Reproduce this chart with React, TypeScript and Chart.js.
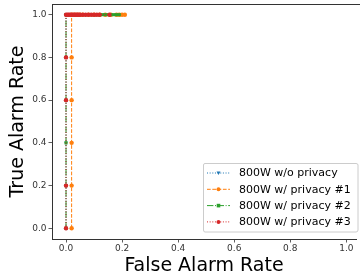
import React, { useEffect, useRef } from 'react';
import Chart from 'chart.js/auto';

const X_TICKS = [0, 0.2, 0.4, 0.6, 0.8, 1.0];
const Y_TICKS = [0, 0.2, 0.4, 0.6, 0.8, 1.0];
const SERIES_LABELS = ['800W w/o privacy', '800W w/ privacy #1', '800W w/ privacy #2', '800W w/ privacy #3'];

const FPR_NOPRIV = [0, 0, 0, 0, 0, 0, 0.01, 0.02, 0.03, 0.04, 0.05, 0.06, 0.07, 0.08];
const TPR_NOPRIV = [0, 0.2, 0.4, 0.6, 0.8, 1, 1, 1, 1, 1, 1, 1, 1, 1];

const FPR_PRIV1 = [0.02, 0.02, 0.02, 0.02, 0.02, 0.02, 0.03, 0.04, 0.05, 0.06, 0.08, 0.1, 0.12, 0.14, 0.16, 0.18, 0.19, 0.2, 0.21];
const TPR_PRIV1 = [0, 0.2, 0.4, 0.6, 0.8, 1, 1, 1, 1, 1, 1, 1, 1, 1, 1, 1, 1, 1, 1];

const FPR_PRIV2 = [0, 0, 0, 0, 0, 0, 0.01, 0.02, 0.03, 0.05, 0.07, 0.09, 0.1, 0.11, 0.12, 0.13, 0.14, 0.15, 0.16, 0.17, 0.18, 0.19];
const TPR_PRIV2 = [0, 0.2, 0.4, 0.6, 0.8, 1, 1, 1, 1, 1, 1, 1, 1, 1, 1, 1, 1, 1, 1, 1, 1, 1];

const FPR_PRIV3 = [0, 0, 0, 0, 0, 0.005, 0.01, 0.015, 0.02, 0.025, 0.03, 0.035, 0.04, 0.045, 0.05, 0.06, 0.07, 0.08, 0.09, 0.1, 0.11, 0.12, 0.155];
const TPR_PRIV3 = [0, 0.2, 0.6, 0.8, 1, 1, 1, 1, 1, 1, 1, 1, 1, 1, 1, 1, 1, 1, 1, 1, 1, 1, 1];

const COLORS = ['#1f77b4', '#ff7f0e', '#2ca02c', '#d62728'];
const DASHES = [[1, 1.65], [3.7, 1.6], [6.4, 1.6, 1, 1.6], [1, 1.65]];
const MARKERS = ['triangle', 'circle', 'rect', 'circle'];

const FONT = 'DejaVu Sans';

function pts(xs: number[], ys: number[]) {
  return xs.map((x, i) => ({ x, y: ys[i] }));
}

function drawMarker(ctx: CanvasRenderingContext2D, style: string, x: number, y: number, r: number, color: string) {
  ctx.save();
  ctx.fillStyle = color;
  ctx.beginPath();
  if (style === 'circle') {
    ctx.arc(x, y, r, 0, Math.PI * 2);
  } else if (style === 'triangle') {
    ctx.moveTo(x - r, y - r * 0.8);
    ctx.lineTo(x + r, y - r * 0.8);
    ctx.lineTo(x, y + r);
    ctx.closePath();
  } else {
    ctx.rect(x - r * 0.9, y - r * 0.9, r * 1.8, r * 1.8);
  }
  ctx.fill();
  ctx.restore();
}

const framePlugin = {
  id: 'frameAndLegend',
  afterDraw(chart: any) {
    const ctx: CanvasRenderingContext2D = chart.ctx;
    const a = chart.chartArea;
    ctx.save();
    ctx.strokeStyle = '#333';
    ctx.lineWidth = 1;
    ctx.beginPath();
    ctx.moveTo(a.left, a.top + 0.5);
    ctx.lineTo(chart.width, a.top + 0.5);
    ctx.stroke();

    // legend
    const bx = 203, by = 163, bw = 155, bh = 69;
    ctx.fillStyle = 'rgba(255,255,255,0.85)';
    ctx.strokeStyle = '#cccccc';
    ctx.beginPath();
    const rr = 2;
    ctx.moveTo(bx + rr, by + 0.5);
    ctx.lineTo(bx + bw - rr, by + 0.5);
    ctx.quadraticCurveTo(bx + bw, by + 0.5, bx + bw, by + rr);
    ctx.lineTo(bx + bw, by + bh - rr);
    ctx.quadraticCurveTo(bx + bw, by + bh, bx + bw - rr, by + bh);
    ctx.lineTo(bx + rr, by + bh);
    ctx.quadraticCurveTo(bx + 0.5, by + bh, bx + 0.5, by + bh - rr);
    ctx.lineTo(bx + 0.5, by + rr);
    ctx.quadraticCurveTo(bx + 0.5, by + 0.5, bx + rr, by + 0.5);
    ctx.closePath();
    ctx.fill();
    ctx.stroke();

    ctx.font = `11px "${FONT}"`;
    ctx.textBaseline = 'middle';
    ctx.textAlign = 'left';
    chart.data.datasets.forEach((ds: any, i: number) => {
      const y = by + 10 + i * 16.3;
      ctx.strokeStyle = COLORS[i];
      ctx.lineWidth = 1;
      ctx.setLineDash(DASHES[i]);
      ctx.beginPath();
      ctx.moveTo(207, y);
      ctx.lineTo(230, y);
      ctx.stroke();
      ctx.setLineDash([]);
      drawMarker(ctx, MARKERS[i], 218.5, y, 2, COLORS[i]);
      ctx.fillStyle = '#000';
      ctx.fillText(ds.label, 239, y + 0.5);
    });
    ctx.restore();
  },
};

export default function App() {
  const ref = useRef<HTMLCanvasElement>(null);
  useEffect(() => {
    document.body.style.margin = '0';
    const datasets = [
      pts(FPR_NOPRIV, TPR_NOPRIV),
      pts(FPR_PRIV1, TPR_PRIV1),
      pts(FPR_PRIV2, TPR_PRIV2),
      pts(FPR_PRIV3, TPR_PRIV3),
    ].map((data, i) => ({
      label: SERIES_LABELS[i],
      data,
      order: 3 - i,
      showLine: true,
      borderColor: COLORS[i],
      backgroundColor: COLORS[i],
      borderWidth: 1,
      borderDash: DASHES[i],
      pointStyle: MARKERS[i],
      pointRotation: i === 0 ? 180 : 0,
      pointRadius: 2.2,
      pointBorderWidth: 0,
      pointBackgroundColor: COLORS[i],
      fill: false,
      tension: 0,
    }));
    const chart = new Chart(ref.current!, {
      type: 'scatter',
      data: { datasets },
      options: {
        responsive: false,
        animation: false,
        layout: { padding: { top: 4, left: 0, right: 0, bottom: 0 } },
        plugins: { legend: { display: false }, tooltip: { enabled: false } },
        scales: {
          x: {
            type: 'linear',
            min: -0.05,
            max: 1.0345,
            afterBuildTicks: (s: any) => { s.ticks = X_TICKS.map((v) => ({ value: v })); },
            afterFit: (s: any) => { s.height = 40; s.paddingLeft = 0; s.paddingRight = 0; },
            grid: { display: true, drawOnChartArea: false, tickLength: 3.5, color: '#333', tickWidth: 0.8 },
            border: { display: true, color: '#333', width: 1 },
            ticks: { font: { family: FONT, size: 9 }, color: '#333', padding: 1, maxRotation: 0, autoSkip: false, callback: (v: any) => Number(v).toFixed(1) },
            title: { display: true, text: 'False Alarm Rate', font: { family: FONT, size: 19 }, color: '#000', padding: { top: 0, bottom: 2 } },
          },
          y: {
            type: 'linear',
            min: -0.05,
            max: 1.05,
            afterBuildTicks: (s: any) => { s.ticks = Y_TICKS.map((v) => ({ value: v })); },
            afterFit: (s: any) => { s.width = 52; s.paddingTop = 0; s.paddingBottom = 0; },
            grid: { display: true, drawOnChartArea: false, tickLength: 3.5, color: '#333', tickWidth: 0.8 },
            border: { display: true, color: '#333', width: 1 },
            ticks: { font: { family: FONT, size: 9 }, color: '#333', padding: 2, autoSkip: false, callback: (v: any) => Number(v).toFixed(1) },
            title: { display: true, text: 'True Alarm Rate', font: { family: FONT, size: 19 }, color: '#000', padding: { top: 6.5, bottom: 0 } },
          },
        },
      },
      plugins: [framePlugin],
    });
    return () => chart.destroy();
  }, []);
  return <canvas ref={ref} width={360} height={279} style={{ display: 'block' }} />;
}
